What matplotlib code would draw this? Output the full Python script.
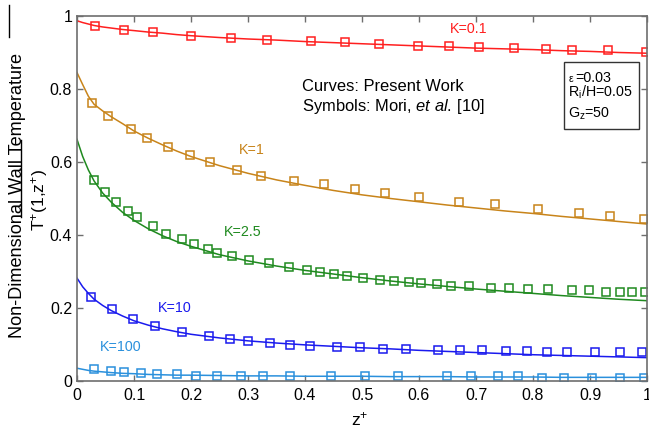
import numpy as np
import matplotlib
matplotlib.use("Agg")
import matplotlib.pyplot as plt
from matplotlib.lines import Line2D

plt.rcParams['font.family'] = ['Liberation Sans', 'DejaVu Sans']
plt.rcParams['mathtext.fontset'] = 'custom'
plt.rcParams['mathtext.rm'] = 'Liberation Sans'
plt.rcParams['mathtext.it'] = 'Liberation Sans:italic'

# ------------------------------------------------------------------
# curves (present work)
# ------------------------------------------------------------------
z_curve = [0, 0.01, 0.02, 0.03, 0.045, 0.06, 0.08, 0.1, 0.125, 0.15, 0.175, 0.2,
           0.25, 0.3, 0.35, 0.4, 0.45, 0.5, 0.55, 0.6, 0.65, 0.7, 0.75, 0.8,
           0.85, 0.9, 0.95, 1.0]
curve_k01 = [0.987, 0.982, 0.978, 0.974, 0.970, 0.967, 0.963, 0.960, 0.956, 0.953,
             0.949, 0.946, 0.941, 0.937, 0.934, 0.930, 0.927, 0.924, 0.921, 0.918,
             0.915, 0.912, 0.910, 0.908, 0.905, 0.903, 0.900, 0.898]
curve_k1 = [0.845, 0.812, 0.780, 0.758, 0.740, 0.724, 0.705, 0.685, 0.665, 0.647,
            0.630, 0.615, 0.590, 0.569, 0.551, 0.536, 0.522, 0.510, 0.500, 0.491,
            0.482, 0.474, 0.466, 0.459, 0.451, 0.444, 0.437, 0.430]
curve_k25 = [0.662, 0.615, 0.578, 0.548, 0.515, 0.490, 0.462, 0.440, 0.417, 0.398,
             0.382, 0.369, 0.346, 0.329, 0.315, 0.303, 0.293, 0.283, 0.274, 0.266,
             0.259, 0.252, 0.246, 0.240, 0.234, 0.229, 0.224, 0.220]
curve_k10 = [0.282, 0.258, 0.240, 0.224, 0.207, 0.193, 0.178, 0.165, 0.153, 0.143,
             0.135, 0.128, 0.118, 0.110, 0.104, 0.099, 0.095, 0.091, 0.088, 0.084,
             0.081, 0.078, 0.075, 0.072, 0.070, 0.068, 0.066, 0.064]
curve_k100 = [0.035, 0.032, 0.029, 0.027, 0.025, 0.023, 0.021, 0.020, 0.018, 0.017,
              0.016, 0.016, 0.015, 0.014, 0.014, 0.013, 0.013, 0.013, 0.012, 0.012,
              0.012, 0.011, 0.011, 0.011, 0.010, 0.010, 0.010, 0.010]

# ------------------------------------------------------------------
# symbols (Mori et al. [10])
# ------------------------------------------------------------------
z_k01 = [0.032, 0.082, 0.133, 0.200, 0.270, 0.333, 0.410, 0.471, 0.529, 0.599,
         0.653, 0.705, 0.767, 0.823, 0.869, 0.932, 0.998]
t_k01 = [0.973, 0.963, 0.955, 0.945, 0.940, 0.934, 0.932, 0.929, 0.924, 0.919,
         0.918, 0.915, 0.911, 0.910, 0.908, 0.907, 0.902]

z_k1 = [0.027, 0.054, 0.094, 0.122, 0.159, 0.199, 0.234, 0.280, 0.323, 0.381,
        0.434, 0.487, 0.540, 0.600, 0.671, 0.734, 0.808, 0.881, 0.935, 0.994]
t_k1 = [0.762, 0.727, 0.690, 0.666, 0.641, 0.618, 0.599, 0.578, 0.562, 0.548,
        0.539, 0.525, 0.514, 0.504, 0.491, 0.484, 0.470, 0.459, 0.453, 0.443]

z_k25 = [0.029, 0.049, 0.068, 0.089, 0.106, 0.134, 0.157, 0.184, 0.206, 0.229,
         0.246, 0.272, 0.302, 0.337, 0.372, 0.404, 0.426, 0.450, 0.473, 0.502,
         0.532, 0.557, 0.583, 0.604, 0.631, 0.656, 0.687, 0.726, 0.758, 0.791,
         0.826, 0.869, 0.899, 0.928, 0.953, 0.973, 0.996]
t_k25 = [0.552, 0.519, 0.491, 0.466, 0.448, 0.425, 0.403, 0.388, 0.375, 0.363,
         0.352, 0.343, 0.331, 0.322, 0.311, 0.303, 0.298, 0.292, 0.288, 0.282,
         0.278, 0.275, 0.272, 0.268, 0.266, 0.261, 0.260, 0.256, 0.256, 0.253,
         0.251, 0.248, 0.248, 0.245, 0.243, 0.243, 0.243]

z_k10 = [0.024, 0.061, 0.098, 0.136, 0.185, 0.232, 0.268, 0.300, 0.339, 0.374,
         0.408, 0.456, 0.496, 0.537, 0.578, 0.634, 0.672, 0.710, 0.753, 0.789,
         0.825, 0.859, 0.909, 0.953, 0.992]
t_k10 = [0.229, 0.196, 0.169, 0.151, 0.133, 0.123, 0.114, 0.110, 0.103, 0.100,
         0.096, 0.093, 0.092, 0.089, 0.089, 0.085, 0.085, 0.085, 0.082, 0.082,
         0.080, 0.080, 0.080, 0.079, 0.079]

z_k100 = [0.030, 0.060, 0.082, 0.112, 0.140, 0.175, 0.209, 0.245, 0.288, 0.326,
          0.374, 0.445, 0.506, 0.563, 0.649, 0.692, 0.738, 0.774, 0.815, 0.854,
          0.903, 0.953, 0.995]
t_k100 = [0.033, 0.027, 0.024, 0.021, 0.019, 0.018, 0.015, 0.015, 0.015, 0.015,
          0.015, 0.014, 0.014, 0.014, 0.0145, 0.014, 0.014, 0.014, 0.009, 0.009,
          0.009, 0.009, 0.007]

k_labels = ['K=0.1', 'K=1', 'K=2.5', 'K=10', 'K=100']
x_ticks = [0, 0.1, 0.2, 0.3, 0.4, 0.5, 0.6, 0.7, 0.8, 0.9, 1]
x_ticklabels = ['0', '0.1', '0.2', '0.3', '0.4', '0.5', '0.6', '0.7', '0.8', '0.9', '1']
y_ticks = [0, 0.2, 0.4, 0.6, 0.8, 1]
y_ticklabels = ['0', '0.2', '0.4', '0.6', '0.8', '1']

# ------------------------------------------------------------------
# plot
# ------------------------------------------------------------------
fig = plt.figure(figsize=(6.49, 4.29), dpi=100)
ax = fig.add_axes([77 / 649, 48 / 429, 570 / 649, 365 / 429])

series = [
    (curve_k01, z_k01, t_k01, '#ff1f1f', (0.688, 0.964)),
    (curve_k1, z_k1, t_k1, '#c8841a', (0.306, 0.632)),
    (curve_k25, z_k25, t_k25, '#1f8a1f', (0.290, 0.408)),
    (curve_k10, z_k10, t_k10, '#1a1aee', (0.171, 0.200)),
    (curve_k100, z_k100, t_k100, '#2a90dc', (0.077, 0.093)),
]

for (curve, zs, ts, col, pos), lab in zip(series, k_labels):
    ax.plot(z_curve, curve, '-', color=col, lw=1.1)
    ax.plot(zs, ts, 's', mfc='none', mec=col, mew=1.1, ms=6)
    ax.text(pos[0], pos[1], lab, color=col, fontsize=10.3,
            ha='center', va='center')

ax.set_xlim(0, 1)
ax.set_ylim(0, 1)
ax.set_xticks(x_ticks)
ax.set_xticklabels(x_ticklabels)
ax.set_yticks(y_ticks)
ax.set_yticklabels(y_ticklabels)

for sp in ax.spines.values():
    sp.set_color('#6e6e6e')
    sp.set_linewidth(1.2)
ax.tick_params(axis='both', direction='in', length=4.5, width=1.0,
               color='#6e6e6e', labelsize=11.5, top=True, right=True)
ax.tick_params(axis='x', pad=5)
ax.tick_params(axis='y', pad=3.5)

# annotation text
ax.text(0.394, 0.808, 'Curves: Present Work', fontsize=11.9, ha='left', va='center')
ax.text(0.394, 0.752, r'Symbols: Mori, $\mathit{et\ al.}\,$[10]', fontsize=11.9,
        ha='left', va='center')

# parameter box
box = plt.Rectangle((0.854, 0.690), 0.132, 0.185, transform=ax.transAxes,
                    fill=False, ec='#333333', lw=1.0, zorder=5)
ax.add_patch(box)
ax.text(0.862, 0.820, 'ε', fontsize=7.5, ha='left', va='baseline',
        transform=ax.transAxes)
ax.text(0.875, 0.820, '=0.03', fontsize=10.3, ha='left', va='baseline',
        transform=ax.transAxes)
ax.text(0.862, 0.779, r'R$_{\mathrm{i}}$/H=0.05', fontsize=10.3, ha='left',
        va='baseline', transform=ax.transAxes)
ax.text(0.862, 0.722, r'G$_{\mathrm{z}}$=50', fontsize=10.3, ha='left',
        va='baseline', transform=ax.transAxes)

# axis labels
fig.text(18 / 649, 1 - 196 / 429, 'Non-Dimensional Wall Temperature',
         rotation=90, fontsize=13.1, ha='center', va='center')
fig.text(39 / 649, 1 - 200 / 429, r'T$^{+}$(1,z$^{+}$)',
         rotation=90, fontsize=12.6, ha='center', va='center')
fig.text(360 / 649, 1 - 425 / 429, r'z$^{+}$', fontsize=12.6,
         ha='center', va='baseline')

# stray rule lines visible in the scanned original
fig.add_artist(Line2D([9 / 649, 9 / 649], [1 - 5 / 429, 1 - 37 / 429],
                      color='black', lw=1.0))
fig.add_artist(Line2D([21 / 649, 21 / 649], [1 - 140 / 429, 1 - 217 / 429],
                      color='black', lw=1.0))

fig.savefig('out.png', dpi=100)
